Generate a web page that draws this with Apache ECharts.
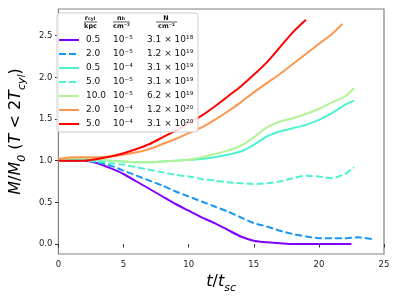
<!DOCTYPE html>
<html><head><meta charset="utf-8">
<script src="https://cdn.jsdelivr.net/npm/echarts@6/dist/echarts.min.js"></script>
<style>html,body{margin:0;padding:0;background:#fff}#c{width:399px;height:299px}</style>
</head><body><div id="c"></div>
<script>
// ---- data ----
const rcyl = ['0.5','2.0','0.5','5.0','10.0','2.0','5.0'];
const nh = ['10⁻⁵','10⁻⁵','10⁻⁴','10⁻⁵','10⁻⁵','10⁻⁴','10⁻⁴'];
const colN = ['3.1 × 10¹⁸','1.2 × 10¹⁹','3.1 × 10¹⁹','3.1 × 10¹⁹','6.2 × 10¹⁹','1.2 × 10²⁰','3.1 × 10²⁰'];
const colors = ['#8000ff','#1996f3','#4df3ce','#4df3ce','#b3f396','#ff964f','#ff0000'];
const dashed = [false,true,false,true,false,false,false];

const tPurple = [0,1,2,3,4,5,6,7,8,9,10,11,12,13,14,15,16,17,18,19,20,21,22,22.5];
const mPurple = [1.0,1.0,1.0,0.97,0.91,0.84,0.75,0.66,0.57,0.48,0.4,0.32,0.25,0.17,0.09,0.04,0.02,0.01,0.0,0.0,0.0,0.0,0.0,0.0];
const tBlue = [0,1,2,3,4,5,6,7,8,9,10,11,12,13,14,15,16,17,18,19,20,21,22,23,24.1];
const mBlue = [1.0,1.0,1.0,0.98,0.94,0.88,0.82,0.76,0.7,0.63,0.57,0.51,0.45,0.39,0.32,0.25,0.21,0.16,0.12,0.09,0.07,0.07,0.07,0.08,0.06];
const tCyan = [0,1,2,3,4,5,6,7,8,9,10,11,12,13,14,15,16,17,18,19,20,21,22,22.7];
const mCyan = [1.0,1.02,1.02,1.01,1.0,0.99,0.98,0.98,0.99,1.0,1.01,1.02,1.04,1.07,1.11,1.19,1.29,1.35,1.39,1.43,1.49,1.57,1.67,1.72];
const tCyanD = [0,1,2,3,4,5,6,7,8,9,10,11,12,13,14,15,16,17,18,19,20,21,22,22.7];
const mCyanD = [1.0,1.0,1.0,0.99,0.97,0.95,0.92,0.89,0.86,0.83,0.81,0.78,0.76,0.74,0.73,0.72,0.73,0.75,0.79,0.82,0.81,0.79,0.84,0.92];
const tGreen = [0,1,2,3,4,5,6,7,8,9,10,11,12,13,14,15,16,17,18,19,20,21,22,22.7];
const mGreen = [1.01,1.03,1.03,1.02,1.0,0.99,0.98,0.98,0.99,1.0,1.01,1.04,1.08,1.12,1.18,1.28,1.4,1.47,1.51,1.56,1.62,1.7,1.77,1.87];
const tOrange = [0,1,2,3,4,5,6,7,8,9,10,11,12,13,14,15,16,17,18,19,20,21,21.8];
const mOrange = [1.02,1.04,1.04,1.04,1.05,1.07,1.1,1.14,1.2,1.26,1.33,1.4,1.49,1.59,1.7,1.82,1.93,2.04,2.16,2.28,2.4,2.52,2.64];
const tRed = [0,1,2,3,4,5,6,7,8,9,10,11,12,13,14,15,16,17,18,19];
const mRed = [1.0,1.0,1.0,1.02,1.05,1.09,1.14,1.2,1.28,1.36,1.45,1.54,1.65,1.77,1.89,2.03,2.18,2.36,2.54,2.69];

const ts = [tPurple,tBlue,tCyan,tCyanD,tGreen,tOrange,tRed];
const ms = [mPurple,mBlue,mCyan,mCyanD,mGreen,mOrange,mRed];
const xTicks = [0,5,10,15,20,25];

const names = rcyl.map((r,i)=>r+'|'+nh[i]+'|'+colN[i]);
const series = names.map((nm,i)=>({
  name: nm, type:'line', symbol:'none', showSymbol:false, smooth:0.2,
  data: ts[i].map((t,j)=>[t, ms[i][j]]),
  lineStyle:{color:colors[i], width:2, type: dashed[i]?[7,3]:'solid'},
  itemStyle:{color:colors[i]}, z:2+i*0.01
}));

const ff = 'DejaVu Sans';
const chart = echarts.init(document.getElementById('c'));
chart.setOption({
  animation:false,
  backgroundColor:'#fff',
  grid:{left:52, right:15, top:9, bottom:45, show:true, borderColor:'#808080', borderWidth:1.2, backgroundColor:'transparent'},
  xAxis:{type:'value', min:xTicks[0], max:xTicks[xTicks.length-1], interval:5,
    axisLine:{show:false}, splitLine:{show:false},
    axisTick:{show:true, length:3.5, lineStyle:{color:'#333'}},
    axisLabel:{fontFamily:ff, fontSize:8.5, color:'#222', margin:6},
    name:'{i|t}{r|/}{i|t}{s|sc}', nameLocation:'middle', nameGap:18,
    nameTextStyle:{rich:{i:{fontFamily:ff,fontStyle:'italic',fontSize:16,lineHeight:18,color:'#000'},
      r:{fontFamily:ff,fontSize:16,lineHeight:18,color:'#000'},
      s:{fontFamily:ff,fontStyle:'italic',fontSize:11,lineHeight:11,verticalAlign:'bottom',padding:[0,0,-3,0],color:'#000'}}}
  },
  yAxis:{type:'value', min:-0.12, max:2.82, splitNumber:6,
    axisLine:{show:false}, splitLine:{show:false},
    axisTick:{show:true, length:3.5, lineStyle:{color:'#333'}},
    axisLabel:{fontFamily:ff, fontSize:8.5, color:'#222', margin:6, showMinLabel:false, showMaxLabel:false,
      formatter:v=>v.toFixed(1)},
    name:'{i|M}{r|/}{i|M}{s|0}{r| (}{i|T}{r| < 2}{i|T}{s|cyl}{r|)}', nameLocation:'middle', nameGap:21, nameRotate:90,
    nameTextStyle:{rich:{i:{fontFamily:ff,fontStyle:'italic',fontSize:16,lineHeight:18,color:'#000'},
      r:{fontFamily:ff,fontSize:16,lineHeight:18,color:'#000'},
      s:{fontFamily:ff,fontStyle:'italic',fontSize:11,lineHeight:11,verticalAlign:'bottom',padding:[0,0,-3,0],color:'#000'}}}
  },
  legend:{orient:'vertical', left:58, top:34, padding:0, itemWidth:20, itemHeight:10, itemGap:2, z:6,
    data:names,
    itemStyle:{opacity:0},
    formatter:(n)=>{const p=n.split('|'); return '{a|'+p[0]+'}{b|'+p[1]+'}{c|'+p[2]+'}';},
    textStyle:{fontFamily:ff, fontSize:9, color:'#111', lineHeight:12,
      rich:{a:{width:27,padding:[0,0,0,2],fontFamily:ff,fontSize:9},b:{width:34,fontFamily:ff,fontSize:9},c:{fontFamily:ff,fontSize:9}}}
  },
  graphic:[
    {type:'rect', shape:{x:57,y:13,width:141,height:119,r:3}, style:{fill:'rgba(255,255,255,0.85)',stroke:'#cccccc',lineWidth:1}, z:5},
    {type:'text', x:90, y:18, z:7, style:{text:'{n|r}{s|cyl}', align:'center', verticalAlign:'middle',
      rich:{n:{fontFamily:ff,fontWeight:'bold',fontSize:6.5,fill:'#111'},s:{fontFamily:ff,fontWeight:'bold',fontSize:4.5,verticalAlign:'bottom',fill:'#111'}}}},
    {type:'line', shape:{x1:84,y1:22,x2:97,y2:22}, style:{stroke:'#111',lineWidth:0.7}, z:7},
    {type:'text', x:90.5, y:26.5, z:7, style:{text:'kpc', align:'center', verticalAlign:'middle', fontFamily:ff, fontWeight:'bold', fontSize:6.5, fill:'#111'}},
    {type:'text', x:121, y:18, z:7, style:{text:'{n|n}{s|h}', align:'center', verticalAlign:'middle',
      rich:{n:{fontFamily:ff,fontWeight:'bold',fontSize:6.5,fill:'#111'},s:{fontFamily:ff,fontWeight:'bold',fontSize:4.5,verticalAlign:'bottom',fill:'#111'}}}},
    {type:'line', shape:{x1:113,y1:22,x2:130,y2:22}, style:{stroke:'#111',lineWidth:0.7}, z:7},
    {type:'text', x:121.5, y:26.5, z:7, style:{text:'cm⁻³', align:'center', verticalAlign:'middle', fontFamily:ff, fontWeight:'bold', fontSize:6.5, fill:'#111'}},
    {type:'text', x:166, y:18, z:7, style:{text:'N', align:'center', verticalAlign:'middle', fontFamily:ff, fontWeight:'bold', fontSize:6.5, fill:'#111'}},
    {type:'line', shape:{x1:156,y1:22,x2:177,y2:22}, style:{stroke:'#111',lineWidth:0.7}, z:7},
    {type:'text', x:166.5, y:26.5, z:7, style:{text:'cm⁻²', align:'center', verticalAlign:'middle', fontFamily:ff, fontWeight:'bold', fontSize:6.5, fill:'#111'}}
  ],
  series: series
});
</script></body></html>
